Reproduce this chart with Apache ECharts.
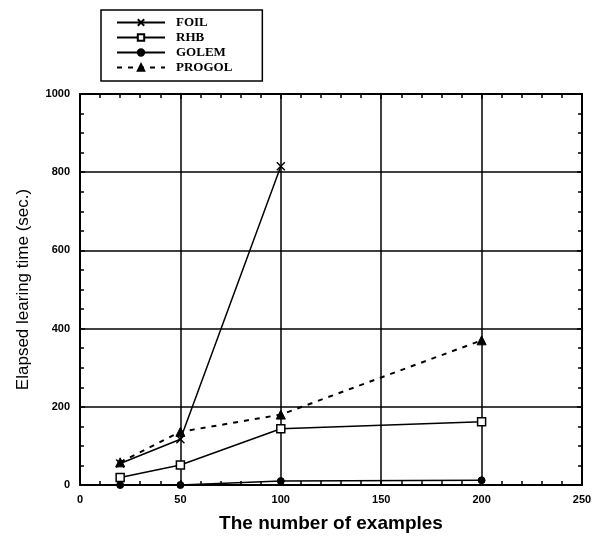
<!DOCTYPE html>
<html><head><meta charset="utf-8">
<script src="https://cdn.jsdelivr.net/npm/echarts@6/dist/echarts.min.js"></script>
<style>html,body{margin:0;padding:0;background:#fff}#c{width:606px;height:538px}</style>
</head><body><div id="c"></div>
<script>
var xFOIL = [20, 50, 100];
var FOIL = [55, 117, 815];
var xAll = [20, 50, 100, 200];
var RHB = [19, 51, 144, 162];
var GOLEM = [0, 0, 10, 12];
var PROGOL = [58, 136, 180, 370];
var xTicks = [0, 50, 100, 150, 200, 250];
var yTicks = [0, 200, 400, 600, 800, 1000];

function pairs(xs, ys){ return xs.map(function(x,i){return [x, ys[i]];}); }

var chart = echarts.init(document.getElementById('c'));
var lbl = {color:'#000', fontFamily:'Liberation Sans, Arial, sans-serif', fontWeight:'bold', fontSize:11,
  formatter:function(v){return String(v);}};
var baseX = {type:'value', min:xTicks[0], max:xTicks[xTicks.length-1], interval:50,
  axisLine:{show:true, onZero:false, lineStyle:{color:'#000', width:2}},
  axisTick:{show:true, inside:true, length:5, lineStyle:{color:'#000', width:1.5}},
  minorTick:{show:true, splitNumber:5, length:4, lineStyle:{color:'#000', width:1.5}}};
var baseY = {type:'value', min:yTicks[0], max:yTicks[yTicks.length-1], interval:200,
  axisLine:{show:true, onZero:false, lineStyle:{color:'#000', width:2}},
  axisTick:{show:true, inside:true, length:5, lineStyle:{color:'#000', width:1.5}},
  minorTick:{show:true, splitNumber:4, length:4, lineStyle:{color:'#000', width:1.5}}};

chart.setOption({
  backgroundColor:'#fff',
  animation:false,
  grid:{left:80, right:24, top:94, bottom:52},
  legend:{
    orient:'vertical', left:101, top:10,
    data:['FOIL','RHB','GOLEM','PROGOL'],
    itemWidth:48, itemHeight:8, itemGap:2,
    padding:[6, 30, 7, 15],
    borderColor:'#000', borderWidth:1.5,
    textStyle:{color:'#000', fontFamily:'Liberation Serif, Times New Roman, serif', fontWeight:'bold', fontSize:13, padding:[0,0,0,6]}
  },
  xAxis:[
    Object.assign({}, baseX, {position:'bottom', name:'The number of examples', nameLocation:'middle', nameGap:29,
      nameTextStyle:{color:'#000', fontFamily:'Liberation Sans, Arial, sans-serif', fontSize:19, fontWeight:'bold'},
      axisLabel:Object.assign({margin:9}, lbl),
      splitLine:{show:true, lineStyle:{color:'#000', width:1.5}}}),
    Object.assign({}, baseX, {position:'top', axisLabel:{show:false}, splitLine:{show:false}})
  ],
  yAxis:[
    Object.assign({}, baseY, {position:'left', name:'Elapsed learing time (sec.)', nameLocation:'middle', nameGap:48,
      nameTextStyle:{color:'#000', fontFamily:'Liberation Sans Narrow, Arial Narrow, Liberation Sans, sans-serif', fontSize:17},
      axisLabel:Object.assign({margin:10}, lbl),
      splitLine:{show:true, lineStyle:{color:'#000', width:1.5}}}),
    Object.assign({}, baseY, {position:'right', axisLabel:{show:false}, splitLine:{show:false}})
  ],
  series:[
    {name:'FOIL', type:'line', data:pairs(xFOIL, FOIL), symbol:'path://M0,0L10,10M10,0L0,10', symbolSize:8,
      itemStyle:{color:'#000', borderColor:'#000', borderWidth:1.5},
      lineStyle:{color:'#000', width:1.5}},
    {name:'RHB', type:'line', data:pairs(xAll, RHB), symbol:'rect', symbolSize:8,
      itemStyle:{color:'#fff', borderColor:'#000', borderWidth:1.5},
      lineStyle:{color:'#000', width:1.5}},
    {name:'GOLEM', type:'line', data:pairs(xAll, GOLEM), symbol:'circle', symbolSize:7,
      itemStyle:{color:'#000', borderColor:'#000', borderWidth:1},
      lineStyle:{color:'#000', width:1.5}},
    {name:'PROGOL', type:'line', data:pairs(xAll, PROGOL), symbol:'triangle', symbolSize:9,
      itemStyle:{color:'#000', borderColor:'#000', borderWidth:1},
      lineStyle:{color:'#000', width:2, type:[5,6]}}
  ]
});
</script></body></html>
